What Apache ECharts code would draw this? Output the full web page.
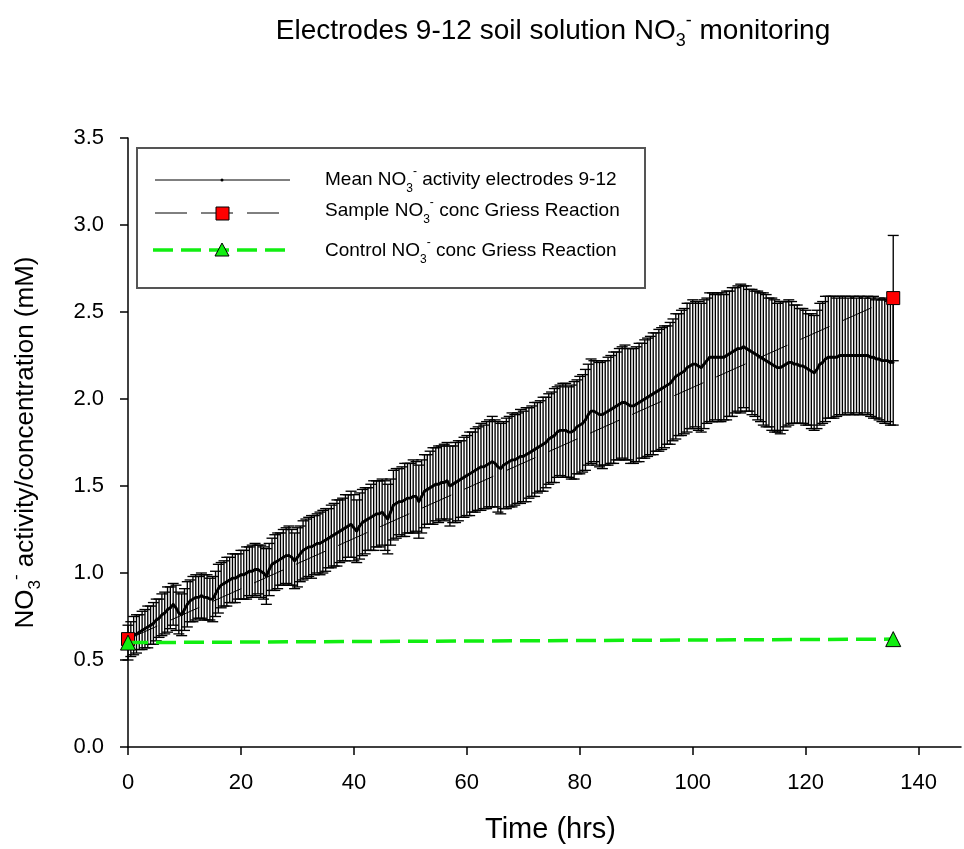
<!DOCTYPE html>
<html>
<head>
<meta charset="utf-8">
<script src="https://cdn.jsdelivr.net/npm/echarts@6/dist/echarts.min.js"></script>
<style>
  html, body { margin: 0; padding: 0; background: #fff; }
  #chart { width: 964px; height: 849px; }
</style>
</head>
<body>
<div id="chart"></div>
<script>
// electrode readings, one every half hour from t = 0
var timeStepHrs = 0.5;
var meanActivity = [
  0.60,0.62,0.64,0.65,0.66,0.67,0.68,0.69,0.70,0.71,
  0.73,0.74,0.76,0.77,0.79,0.80,0.82,0.80,0.77,0.76,
  0.79,0.82,0.84,0.85,0.86,0.86,0.87,0.86,0.86,0.85,
  0.85,0.88,0.91,0.93,0.94,0.95,0.96,0.97,0.97,0.98,
  0.99,0.99,1.00,1.01,1.01,1.02,1.02,1.01,1.00,0.98,
  1.02,1.05,1.06,1.07,1.08,1.09,1.10,1.10,1.09,1.07,
  1.09,1.11,1.13,1.14,1.15,1.15,1.16,1.17,1.17,1.18,
  1.19,1.20,1.21,1.22,1.23,1.24,1.25,1.26,1.27,1.28,
  1.26,1.24,1.27,1.29,1.30,1.31,1.32,1.33,1.34,1.34,
  1.35,1.33,1.31,1.35,1.39,1.40,1.41,1.41,1.42,1.43,
  1.43,1.44,1.44,1.41,1.44,1.47,1.48,1.49,1.50,1.51,
  1.51,1.52,1.52,1.53,1.50,1.51,1.52,1.53,1.54,1.55,
  1.56,1.57,1.58,1.59,1.60,1.61,1.61,1.62,1.63,1.64,
  1.63,1.61,1.60,1.62,1.63,1.64,1.65,1.65,1.66,1.67,
  1.67,1.68,1.69,1.70,1.71,1.72,1.73,1.74,1.75,1.77,
  1.78,1.79,1.81,1.82,1.82,1.82,1.81,1.81,1.82,1.84,
  1.85,1.86,1.88,1.91,1.93,1.93,1.92,1.91,1.91,1.92,
  1.93,1.94,1.95,1.96,1.97,1.98,1.98,1.97,1.96,1.96,
  1.97,1.98,1.99,2.00,2.01,2.02,2.03,2.04,2.05,2.06,
  2.07,2.08,2.09,2.11,2.13,2.14,2.15,2.16,2.18,2.19,
  2.20,2.20,2.19,2.18,2.20,2.22,2.24,2.24,2.24,2.24,
  2.24,2.24,2.25,2.26,2.27,2.28,2.29,2.29,2.30,2.29,
  2.28,2.27,2.26,2.25,2.24,2.23,2.22,2.21,2.20,2.19,
  2.18,2.18,2.19,2.20,2.21,2.21,2.20,2.20,2.19,2.19,
  2.18,2.17,2.16,2.15,2.17,2.20,2.21,2.23,2.24,2.24,
  2.24,2.24,2.25,2.25,2.25,2.25,2.25,2.25,2.25,2.25,
  2.25,2.25,2.25,2.24,2.24,2.23,2.23,2.22,2.22,2.22,
  2.21,2.21
];
// +/- error of the mean, same times
var meanError = [
  0.10,0.10,0.11,0.11,0.10,0.11,0.11,0.12,0.11,0.12,
  0.12,0.11,0.12,0.12,0.13,0.12,0.12,0.13,0.12,0.12,
  0.12,0.13,0.12,0.13,0.13,0.12,0.13,0.13,0.13,0.12,
  0.13,0.13,0.14,0.13,0.13,0.14,0.13,0.14,0.14,0.13,
  0.14,0.14,0.15,0.14,0.15,0.15,0.14,0.15,0.15,0.16,
  0.15,0.15,0.16,0.16,0.15,0.16,0.16,0.17,0.16,0.16,
  0.17,0.16,0.17,0.17,0.17,0.18,0.17,0.17,0.18,0.18,
  0.18,0.17,0.18,0.18,0.19,0.18,0.18,0.19,0.18,0.19,
  0.19,0.18,0.19,0.19,0.19,0.18,0.19,0.20,0.19,0.19,
  0.19,0.20,0.20,0.19,0.20,0.20,0.19,0.20,0.21,0.20,
  0.20,0.21,0.20,0.21,0.21,0.21,0.20,0.21,0.22,0.21,
  0.22,0.21,0.22,0.22,0.23,0.22,0.23,0.23,0.22,0.23,
  0.23,0.24,0.23,0.24,0.24,0.25,0.24,0.25,0.25,0.26,
  0.25,0.26,0.26,0.25,0.26,0.26,0.27,0.26,0.26,0.27,
  0.26,0.27,0.26,0.26,0.27,0.26,0.26,0.27,0.26,0.26,
  0.26,0.27,0.26,0.26,0.27,0.27,0.26,0.27,0.28,0.27,
  0.28,0.28,0.29,0.29,0.30,0.29,0.30,0.30,0.31,0.30,
  0.31,0.31,0.32,0.31,0.32,0.32,0.33,0.32,0.33,0.33,
  0.33,0.34,0.33,0.34,0.34,0.34,0.35,0.34,0.35,0.35,
  0.35,0.34,0.35,0.35,0.36,0.35,0.36,0.36,0.37,0.36,
  0.37,0.36,0.37,0.37,0.37,0.36,0.37,0.37,0.36,0.37,
  0.37,0.36,0.37,0.36,0.37,0.36,0.36,0.37,0.35,0.36,
  0.35,0.36,0.36,0.37,0.37,0.38,0.38,0.37,0.38,0.38,
  0.37,0.38,0.37,0.36,0.36,0.35,0.34,0.34,0.33,0.33,
  0.33,0.32,0.33,0.33,0.34,0.35,0.35,0.36,0.35,0.35,
  0.35,0.34,0.34,0.34,0.34,0.33,0.34,0.34,0.33,0.34,
  0.34,0.33,0.34,0.34,0.35,0.34,0.35,0.35,0.36,0.35,
  0.36,0.36
];

// Griess reaction samples
var griessTime = [0, 135.5];
var sampleConc = [0.62, 2.58];
var sampleError = [0, 0.36];
var controlConc = [0.60, 0.62];

var xTicks = [0, 20, 40, 60, 80, 100, 120, 140];
var yTicks = [0.0, 0.5, 1.0, 1.5, 2.0, 2.5, 3.0, 3.5];

var FONT = 'Liberation Sans, Arial, sans-serif';
var GREEN = '#11ee11';

var meanData = meanActivity.map(function (v, i) { return [i * timeStepHrs, v]; });
var meanBars = meanActivity.map(function (v, i) { return [i * timeStepHrs, v - meanError[i], v + meanError[i]]; });
var sampleData = griessTime.map(function (t, i) { return [t, sampleConc[i]]; });
var sampleBars = [];
griessTime.forEach(function (t, i) {
  if (sampleError[i] > 0) sampleBars.push([t, sampleConc[i] - sampleError[i], sampleConc[i] + sampleError[i]]);
});
var controlData = griessTime.map(function (t, i) { return [t, controlConc[i]]; });

// 竖线 + 上下短横
function errorBar(params, api) {
  var top = api.coord([api.value(0), api.value(2)]);
  var bot = api.coord([api.value(0), api.value(1)]);
  var hw = 5.5;
  var st = { stroke: '#000', lineWidth: 1.35 };
  return {
    type: 'group',
    children: [
      { type: 'line', shape: { x1: top[0], y1: top[1], x2: bot[0], y2: bot[1] }, style: st },
      { type: 'line', shape: { x1: top[0] - hw, y1: top[1], x2: top[0] + hw, y2: top[1] }, style: st },
      { type: 'line', shape: { x1: bot[0] - hw, y1: bot[1], x2: bot[0] + hw, y2: bot[1] }, style: st }
    ]
  };
}

var richNO3 = function (size) {
  var small = Math.round(size * 0.65);
  return {
    a: { fontSize: size, fontFamily: FONT, color: '#000', lineHeight: size + 10 },
    sub: { fontSize: small, fontFamily: FONT, color: '#000', verticalAlign: 'bottom', lineHeight: small },
    sup: { fontSize: small, fontFamily: FONT, color: '#000', verticalAlign: 'top', lineHeight: small }
  };
};

var legendRows = [
  { y: 180, text: '{a|Mean NO}{sub|3}{sup|-}{a| activity electrodes 9-12}' },
  { y: 211, text: '{a|Sample NO}{sub|3}{sup|-}{a| conc Griess Reaction}' },
  { y: 251, text: '{a|Control NO}{sub|3}{sup|-}{a| conc Griess Reaction}' }
];

var legendGraphics = [
  { type: 'rect', shape: { x: 137, y: 148, width: 508, height: 140 }, style: { fill: '#fff', stroke: '#555', lineWidth: 2 }, z: 100 },
  { type: 'line', shape: { x1: 155, y1: 180, x2: 290, y2: 180 }, style: { stroke: '#000', lineWidth: 1 }, z: 101 },
  { type: 'circle', shape: { cx: 222, cy: 180, r: 1.5 }, style: { fill: '#000' }, z: 102 },
  { type: 'line', shape: { x1: 155, y1: 213, x2: 290, y2: 213 }, style: { stroke: '#000', lineWidth: 1, lineDash: [32, 14] }, z: 101 },
  { type: 'rect', shape: { x: 216, y: 207, width: 13, height: 13 }, style: { fill: '#ff0000', stroke: '#000', lineWidth: 1 }, z: 102 },
  { type: 'line', shape: { x1: 153, y1: 250, x2: 292, y2: 250 }, style: { stroke: GREEN, lineWidth: 3.5, lineDash: [20, 8] }, z: 101 },
  { type: 'polygon', shape: { points: [[222, 243], [215, 256], [229, 256]] }, style: { fill: GREEN, stroke: '#000', lineWidth: 1 }, z: 102 }
];
legendRows.forEach(function (r) {
  legendGraphics.push({
    type: 'text', x: 325, y: r.y, z: 102,
    style: { text: r.text, rich: richNO3(19), verticalAlign: 'middle', align: 'left' }
  });
});

var chart = echarts.init(document.getElementById('chart'), null, { renderer: 'canvas' });
chart.setOption({
  backgroundColor: '#fff',
  animation: false,
  title: {
    text: '{a|Electrodes 9-12 soil solution NO}{sub|3}{sup|-}{a| monitoring}',
    left: 548, top: 7, textAlign: 'center',
    textStyle: { fontWeight: 'normal', rich: richNO3(28) }
  },
  grid: { left: 124, right: 3, top: 138, bottom: 100, containLabel: false },
  xAxis: {
    type: 'value', min: 0, max: 147.5, interval: 20,
    name: 'Time (hrs)', nameLocation: 'middle', nameGap: 68,
    nameTextStyle: { fontSize: 29, fontFamily: FONT, color: '#000', padding: [0, 0, 0, 12] },
    axisLine: { onZero: false, lineStyle: { color: '#000', width: 1.5 } },
    axisTick: { show: true, length: 8, lineStyle: { color: '#000', width: 1.5 } },
    axisLabel: {
      fontSize: 22, fontFamily: FONT, color: '#000', margin: 25, showMaxLabel: false,
      formatter: function (v) { return xTicks.indexOf(v) >= 0 ? String(v) : ''; }
    },
    splitLine: { show: false }
  },
  yAxis: {
    type: 'value', min: 0, max: 3.5, interval: 0.5,
    name: '{a|NO}{sub|3}{sup|-}{a| activity/concentration (mM)}',
    nameLocation: 'middle', nameGap: 84, nameRotate: 90,
    nameTextStyle: { rich: richNO3(26) },
    axisLine: { onZero: false, lineStyle: { color: '#000', width: 1.5 } },
    axisTick: { show: true, length: 8, lineStyle: { color: '#000', width: 1.5 } },
    axisLabel: {
      fontSize: 22, fontFamily: FONT, color: '#000', margin: 24,
      formatter: function (v) { return yTicks.indexOf(v) >= 0 ? v.toFixed(1) : ''; }
    },
    splitLine: { show: false }
  },
  graphic: legendGraphics,
  series: [
    { name: 'meanErr', type: 'custom', renderItem: errorBar, data: meanBars, encode: { x: 0, y: [1, 2] }, z: 2, silent: true },
    {
      name: 'Mean', type: 'line', data: meanData, z: 3,
      symbol: 'circle', symbolSize: 2.5, showAllSymbol: true,
      itemStyle: { color: '#000' },
      lineStyle: { color: '#000', width: 2.8 }
    },
    { name: 'sampleErr', type: 'custom', renderItem: errorBar, data: sampleBars, encode: { x: 0, y: [1, 2] }, z: 4, silent: true },
    {
      name: 'Sample', type: 'line', data: sampleData, z: 5,
      symbol: 'rect', symbolSize: 13,
      itemStyle: { color: '#ff0000', borderColor: '#000', borderWidth: 1 },
      lineStyle: { color: '#000', width: 1, type: [32, 14] }
    },
    {
      name: 'Control', type: 'line', data: controlData, z: 6,
      symbol: 'triangle', symbolSize: 15,
      itemStyle: { color: GREEN, borderColor: '#000', borderWidth: 1 },
      lineStyle: { color: GREEN, width: 3.5, type: [20, 8] }
    }
  ]
});
</script>
</body>
</html>
